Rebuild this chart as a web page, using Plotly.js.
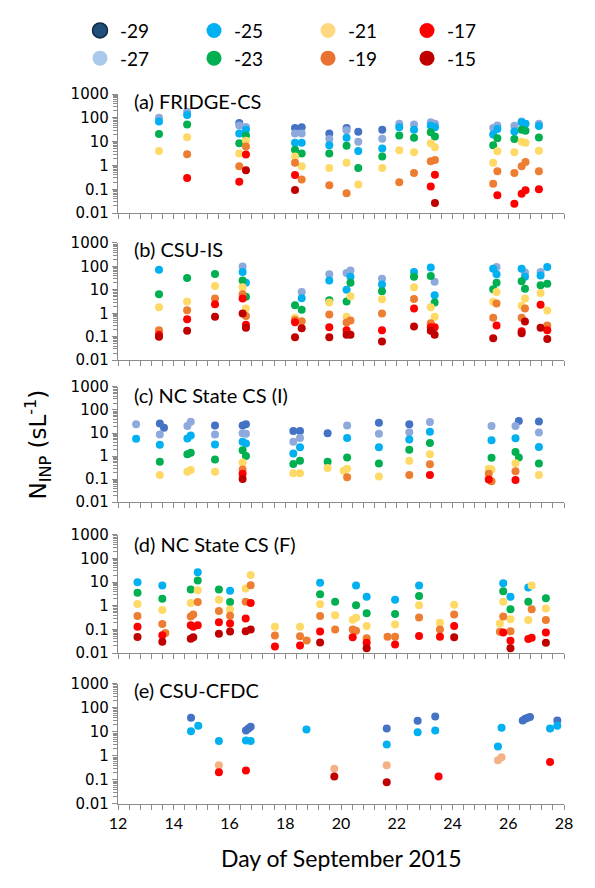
<!DOCTYPE html>
<html><head><meta charset="utf-8">
<script src="https://cdn.plot.ly/plotly-3.0.1.min.js"></script>
<style>html,body{margin:0;padding:0;background:#fff;}#chart{width:595px;height:888px;}</style>
</head><body><div id="chart"></div>
<script>
const _ = null;
const TEMPS = ['-29','-27','-25','-23','-21','-19','-17','-15'];
const PANEL_TITLES = ['(a) FRIDGE-CS','(b) CSU-IS','(c) NC State CS (I)','(d) NC State CS (F)','(e) CSU-CFDC'];
const X_TICKS = [12,14,16,18,20,22,24,26,28];
const Y_TICKS = [0.01,0.1,1,10,100,1000];
const Y_TICK_LABELS = ['0.01','0.1','1','10','100','1000'];

// Panel (a) FRIDGE-CS
const DAYS_A = [13.47,14.48,16.35,16.59,18.35,18.59,19.58,20.20,20.62,21.48,22.09,22.62,23.22,23.37,25.46,25.61,26.22,26.48,26.62,27.10];
const VALS_A = [
 [_,_,60,_,37,40,22,37,26,32,_,_,_,_,_,_,_,_,_,_],
 [100,180,48,41,22,22,13,30,10,13.4,56,52,66,56,37,48,47,70,_,56],
 [70,130,22,32,9.1,9.1,7.1,14.7,4.1,5.2,40,32,47,40,20,34,27,66,57,45],
 [21,52,8.5,18,4.6,3.2,3.2,6.8,0.79,2.4,18,14.7,25,16.6,7.1,14,13,32,29,15],
 [4.1,15.5,3.2,11,2.4,0.93,0.78,1.3,0.16,0.79,4.4,3.6,8.5,5.8,1.3,4.0,3.6,9.8,8.9,4.2],
 [_,3.0,0.93,6.2,1.3,0.26,0.15,0.068,_,_,0.2,0.48,1.5,1.7,0.17,0.57,0.48,0.93,1.4,0.57],
 [_,0.30,0.21,2.9,0.40,_,_,_,_,_,_,_,0.13,0.41,_,0.057,0.025,0.066,0.091,0.10],
 [_,_,_,0.63,0.093,_,_,_,_,_,_,_,_,0.027,_,_,_,_,_,_]
];
// Panel (b) CSU-IS
const DAYS_B = [13.47,14.48,15.48,16.47,16.59,18.35,18.59,19.58,20.20,20.34,21.47,22.62,23.22,23.36,25.46,25.58,26.48,26.60,27.16,27.40];
const VALS_B = [
 [_,_,_,_,_,_,_,_,_,_,_,_,_,_,_,_,_,_,_,_],
 [_,_,_,100,_,_,8.1,46,52,67,30,_,_,22,_,94,_,55,57,_],
 [72,_,_,57,20,_,4.4,25,10,36,17,57,89,5.9,80,46,80,36,41,94],
 [6.4,32,47,25,5.0,2.2,1.4,3.6,3.2,20,8.7,36,39,2.9,10.5,20,23,11,15.5,18],
 [1.8,3.2,14.5,13,1.6,0.65,_,2.9,0.71,5.3,4.0,13,1.8,0.71,3.1,8.1,2.1,4.3,7.4,1.3],
 [0.19,1.35,4.3,6.5,0.76,0.51,0.46,0.89,0.40,0.49,0.98,4.1,0.37,_,0.65,2.6,0.65,1.6,_,0.30],
 [0.12,0.56,2.4,4.3,0.32,0.41,_,0.25,0.19,_,0.19,1.6,0.25,0.25,_,0.30,0.17,_,2.3,0.19],
 [0.10,0.18,0.71,0.98,0.24,0.094,0.23,0.094,0.12,0.12,0.062,0.27,0.18,0.12,0.085,_,0.14,0.44,0.24,0.079]
];
// Panel (c) NC State CS (I)
const DAYS_C = [12.65,13.50,13.65,14.49,14.61,15.48,16.47,16.59,18.29,18.53,19.52,20.10,20.22,21.36,22.45,23.19,25.30,25.40,26.26,26.38,27.10];
const VALS_C = [
 [_,26,17,_,_,21,21,24,12.3,12.3,9.8,_,_,28,24,_,_,_,_,33,32],
 [24,8.7,_,20,31,8.7,9.8,9.3,4.2,6.1,_,_,21,9.3,10.7,30,_,20,20,_,10.5],
 [5.6,3.1,_,5.8,7.8,3.2,4.2,3.5,1.3,2.4,_,_,6.1,2.4,5.2,11.3,_,4.9,5.9,_,2.5],
 [_,0.56,_,1.2,1.4,0.70,1.8,1.0,0.45,0.63,0.56,_,0.87,0.48,1.9,3.7,_,0.85,1.5,0.87,0.47],
 [_,0.15,_,0.21,0.25,0.21,0.53,_,0.18,0.18,0.30,0.23,0.28,0.13,0.63,1.2,0.28,0.26,0.49,_,0.15],
 [_,_,_,_,_,_,0.26,_,_,_,_,_,0.12,_,0.15,0.44,0.17,0.081,0.22,_,_],
 [_,_,_,_,_,_,0.17,_,_,_,_,_,_,_,_,0.15,0.095,_,0.091,_,_],
 [_,_,_,_,_,_,0.10,_,_,_,_,_,_,_,_,_,_,_,_,_,_]
];
// Panel (d) NC State CS (F)
const DAYS_D = [12.70,13.59,13.70,14.61,14.70,14.86,15.62,16.02,16.58,16.76,17.63,18.53,18.77,19.25,19.79,20.42,20.54,20.92,21.67,21.94,22.80,23.55,24.06,25.70,25.82,26.08,26.72,26.84,27.35];
const VALS_D = [
 [_,_,_,_,_,_,_,_,_,_,_,_,_,_,_,_,_,_,_,_,_,_,_,_,_,_,_,_,_],
 [_,_,_,_,_,_,_,_,_,_,_,_,_,_,_,_,_,_,_,_,_,_,_,_,_,_,_,_,_],
 [10,7.2,_,_,_,26,_,4.3,_,_,_,_,_,9.4,_,_,7.2,2.4,_,1.8,7.2,_,_,_,8.9,2.4,5.9,_,_],
 [3.6,2.0,_,4.9,_,11.7,4.9,1.44,_,_,_,_,_,3.1,1.5,_,1.05,0.48,_,0.45,2.6,_,_,_,4.1,0.72,1.5,_,2.1],
 [1.2,0.66,_,1.3,_,4.5,1.8,0.69,5.4,20,0.13,0.13,_,1.17,0.40,0.26,0.31,0.14,_,0.16,1.05,0.19,1.1,0.18,1.5,0.27,0.25,7.2,0.76],
 [0.37,0.17,0.071,0.35,0.43,1.44,0.60,0.38,1.5,7.4,0.055,0.051,0.034,0.37,0.10,0.10,0.089,0.042,0.049,0.049,0.32,0.10,0.43,0.080,0.35,0.083,_,0.71,0.25],
 [0.13,0.057,_,0.15,0.13,0.15,0.20,0.18,0.29,1.3,0.019,0.021,_,0.081,_,0.047,_,0.027,_,0.023,0.053,0.049,0.14,_,0.074,0.033,0.039,0.044,0.074],
 [0.048,0.030,_,0.040,0.047,_,0.065,0.081,0.083,0.10,_,_,_,0.028,_,_,_,0.016,_,_,_,_,0.047,_,_,0.016,_,_,0.027]
];
// Panel (e) CSU-CFDC
const DAYS_E = [14.62,14.88,15.62,16.59,16.68,16.76,18.76,19.76,21.64,22.75,23.38,23.50,25.63,25.76,26.52,26.61,26.70,26.78,27.50,27.76];
const VALS_E = [
 [39,_,_,11.5,14,16.5,_,_,14,29,44,_,_,_,29.5,35.5,39,41.7,_,29.5],
 [_,_,_,_,_,_,_,_,_,_,_,_,_,_,_,_,_,_,_,_],
 [10.7,18,4.2,4.4,_,4.2,12.6,_,3.0,9.6,11.5,_,2.5,15,_,_,_,_,13.8,18],
 [_,_,_,_,_,_,_,_,_,_,_,_,_,_,_,_,_,_,_,_],
 [_,_,_,_,_,_,_,_,_,_,_,_,_,_,_,_,_,_,_,_],
 [_,_,0.41,_,_,_,_,0.29,0.41,_,_,_,0.66,0.89,_,_,_,_,_,_],
 [_,_,0.21,0.25,_,_,_,_,_,_,_,0.14,_,_,_,_,_,_,0.56,_],
 [_,_,_,_,_,_,_,0.14,0.081,_,_,_,_,_,_,_,_,_,_,_]
];

const PANELS = [[DAYS_A,VALS_A],[DAYS_B,VALS_B],[DAYS_C,VALS_C],[DAYS_D,VALS_D],[DAYS_E,VALS_E]];

// styles
const DATA_COLORS = ['#4472C4','#8EA9DB','#00B0F0','#00B050','#FFD966','#ED7D31','#FF0000','#C00000'];
const E_COLOR_19 = '#F4B183';
const LEGEND_COLORS = ['#1F4E79','#A9C8EA','#00B0F0','#00B050','#FFD97F','#E97132','#FF0000','#C00000'];

const W = 595, H = 888, ML = 118, MR = 31, MT = 89, MB = 84;
const PW = W - ML - MR, PH = H - MT - MB;
const px2x = p => (p - ML) / PW;
const py2y = p => (H - MB - p) / PH;
const PANEL_PX = [[89,209],[239,357],[384,500],[533,652],[683,804]];
const TITLE_PY = [96,245,392,542,689];

const traces = [];
PANELS.forEach(([days, vals], i) => {
  const ax = i === 0 ? '' : String(i + 1);
  vals.forEach((row, k) => {
    let col = DATA_COLORS[k];
    if (i === 4 && k === 5) col = E_COLOR_19;
    traces.push({
      type: 'scatter', mode: 'markers', x: days, y: row,
      xaxis: 'x' + ax, yaxis: 'y' + ax, showlegend: false,
      marker: {size: 8, color: col}, hoverinfo: 'x+y', name: TEMPS[k]
    });
  });
});
// legend entries: 4 columns of 2
TEMPS.forEach((t, k) => {
  const colIdx = Math.floor(k / 2);
  traces.push({
    type: 'scatter', mode: 'markers', x: [null], y: [null], name: t,
    xaxis: 'x', yaxis: 'y', showlegend: true,
    legend: colIdx === 0 ? 'legend' : 'legend' + (colIdx + 1),
    marker: {size: 15, color: LEGEND_COLORS[k],
      line: {width: k === 0 ? 1.5 : 0, color: '#0B2A45'}}
  });
});

const AX_COLOR = '#8C8C8C';
const layout = {
  width: W, height: H, showlegend: true,
  margin: {l: ML, r: MR, t: MT, b: MB},
  paper_bgcolor: '#fff', plot_bgcolor: '#fff',
  font: {family: 'Lato, sans-serif', color: '#000'},
  annotations: []
};
const LEG_X = [101, 215, 329, 428];
LEG_X.forEach((p, c) => {
  const key = c === 0 ? 'legend' : 'legend' + (c + 1);
  layout[key] = {
    x: px2x(p - 21), y: py2y(6), xanchor: 'left', yanchor: 'top',
    orientation: 'v', bgcolor: 'rgba(0,0,0,0)', borderwidth: 0,
    font: {family: 'Lato, sans-serif', size: 19, color: '#000'},
    itemsizing: 'trace', tracegroupgap: 0
  };
});
PANEL_PX.forEach(([top, bot], i) => {
  const ax = i === 0 ? '' : String(i + 1);
  layout['xaxis' + ax] = {
    domain: [0, 1], anchor: 'y' + ax, range: [12, 28], tickvals: X_TICKS,
    showticklabels: i === 4, ticks: 'outside', ticklen: 5, tickcolor: AX_COLOR, tickwidth: 1,
    minor: {dtick: 0.4, tick0: 12, ticks: 'outside', ticklen: 5, tickcolor: AX_COLOR},
    showline: true, linecolor: AX_COLOR, linewidth: 1.2, showgrid: false, zeroline: false,
    tickfont: {family: 'Lato, sans-serif', size: 16, color: '#000'}
  };
  layout['yaxis' + ax] = {
    domain: [py2y(bot), py2y(top)], anchor: 'x' + ax, type: 'log', range: [-2, 3],
    tickvals: Y_TICKS, ticktext: Y_TICK_LABELS, ticks: 'outside', ticklen: 5, tickcolor: AX_COLOR,
    minor: {dtick: 'D1', ticks: 'outside', ticklen: 4, tickcolor: AX_COLOR},
    showline: true, linecolor: AX_COLOR, linewidth: 1.2, showgrid: false, zeroline: false,
    tickfont: {family: 'DejaVu Sans, Verdana, sans-serif', size: 15, color: '#000'}
  };
  layout.annotations.push({
    text: PANEL_TITLES[i], xref: 'paper', yref: 'paper', x: px2x(132), y: py2y(TITLE_PY[i]),
    xanchor: 'left', yanchor: 'middle', showarrow: false,
    font: {family: 'Lato, sans-serif', size: 20, color: '#000'}
  });
});
layout.annotations.push({
  text: 'N<sub>INP</sub> (sL<sup>-1</sup>)', xref: 'paper', yref: 'paper',
  x: px2x(38), y: py2y(442), textangle: -90, showarrow: false,
  xanchor: 'center', yanchor: 'middle',
  font: {family: 'DejaVu Sans, Verdana, sans-serif', size: 23, color: '#000'}
});
layout.annotations.push({
  text: 'Day of September 2015', xref: 'paper', yref: 'paper',
  x: px2x(341), y: py2y(858), showarrow: false, xanchor: 'center', yanchor: 'middle',
  font: {family: 'Lato, sans-serif', size: 23, color: '#000'}
});

Plotly.newPlot('chart', traces, layout, {staticPlot: true, displayModeBar: false});
</script></body></html>
